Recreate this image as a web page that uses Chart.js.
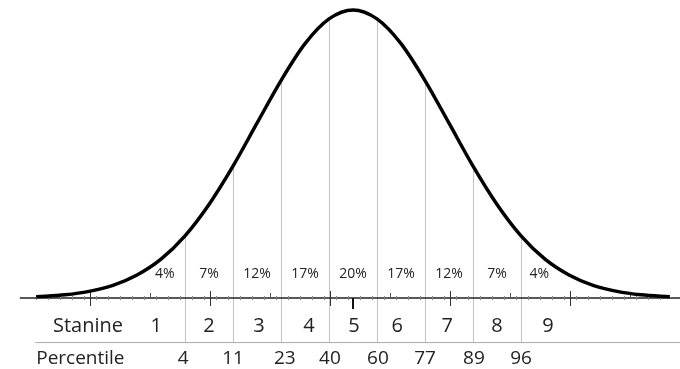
<!DOCTYPE html>
<html>
<head>
<meta charset="utf-8">
<script src="https://cdn.jsdelivr.net/npm/chart.js@4"></script>
<style>
  html, body { margin: 0; padding: 0; background: #fff; }
  #wrap { width: 680px; height: 369px; }
</style>
</head>
<body>
<div id="wrap"><canvas id="stanineChart" width="680" height="369"></canvas></div>
<script>
// curve: x in standard deviations, height in % of the peak
const curveZ = [-3.3, -3, -2.75, -2.5, -2.25, -2, -1.75, -1.5, -1.25, -1, -0.75, -0.5, -0.25, 0,
                0.25, 0.5, 0.75, 1, 1.25, 1.5, 1.75, 2, 2.25, 2.5, 2.75, 3, 3.3];
const curveH = [0.4, 1.1, 2.3, 4.4, 8, 13.5, 21.6, 32.5, 45.8, 60.7, 75.5, 88.3, 96.9, 100,
                96.9, 88.3, 75.5, 60.7, 45.8, 32.5, 21.6, 13.5, 8, 4.4, 2.3, 1.1, 0.4];

const boundaries = [-1.75, -1.25, -0.75, -0.25, 0.25, 0.75, 1.25, 1.75];
const shares = ['4%', '7%', '12%', '17%', '20%', '17%', '12%', '7%', '4%'];
const shareZ = [-1.96, -1.5, -1, -0.5, 0, 0.5, 1, 1.5, 1.94];
const stanines = ['1', '2', '3', '4', '5', '6', '7', '8', '9'];
const stanineZ = [-2.05, -1.5, -0.98, -0.46, 0.01, 0.46, 0.98, 1.5, 2.03];
const percentiles = ['4', '11', '23', '40', '60', '77', '89', '96'];
const percentileZ = [-1.77, -1.25, -0.71, -0.24, 0.26, 0.75, 1.26, 1.75];

// ruler marks along the base line
const majorTicks = [-2.74, -1.49, -0.24, 1.01, 2.26];
const mediumTicks = [-2.11, -0.86, 0.39, 1.64, 2.89];

const FONT = '"Open Sans", "DejaVu Sans", sans-serif';

const stanineDecor = {
  id: 'stanineDecor',
  beforeDatasetsDraw(chart) {
    const { ctx } = chart;
    const xs = chart.scales.x, ys = chart.scales.y;
    const pts = chart.getDatasetMeta(0).data;
    const base = ys.getPixelForValue(0);
    const rowLine = ys.getPixelForValue(-15.3);

    ctx.save();
    // boundary lines from curve down to under the stanine row
    ctx.strokeStyle = '#c4c4c4';
    ctx.lineWidth = 1;
    boundaries.forEach(z => {
      const i = curveZ.indexOf(z);
      const x = Math.round(xs.getPixelForValue(z)) + 0.5;
      ctx.beginPath();
      ctx.moveTo(x, pts[i].y);
      ctx.lineTo(x, rowLine);
      ctx.stroke();
    });

    // line under the stanine row
    ctx.strokeStyle = '#a8a8a8';
    ctx.beginPath();
    ctx.moveTo(xs.getPixelForValue(-3.31), rowLine + 0.5);
    ctx.lineTo(xs.getPixelForValue(3.41), rowLine + 0.5);
    ctx.stroke();

    // base line
    ctx.strokeStyle = '#222';
    ctx.lineWidth = 1.6;
    ctx.beginPath();
    ctx.moveTo(xs.getPixelForValue(-3.47), base);
    ctx.lineTo(xs.getPixelForValue(3.41), base);
    ctx.stroke();

    // minor ruler dots
    ctx.strokeStyle = '#888';
    ctx.lineWidth = 1;
    for (let z = -3.3; z <= 3.2; z += 0.125) {
      const x = Math.round(xs.getPixelForValue(z)) + 0.5;
      ctx.beginPath();
      ctx.moveTo(x, base - 2);
      ctx.lineTo(x, base + 2);
      ctx.stroke();
    }
    ctx.strokeStyle = '#555';
    mediumTicks.forEach(z => {
      const x = Math.round(xs.getPixelForValue(z)) + 0.5;
      ctx.beginPath();
      ctx.moveTo(x, base - 5);
      ctx.lineTo(x, base + 1);
      ctx.stroke();
    });
    ctx.strokeStyle = '#333';
    majorTicks.forEach(z => {
      const x = Math.round(xs.getPixelForValue(z)) + 0.5;
      ctx.beginPath();
      ctx.moveTo(x, base - 7);
      ctx.lineTo(x, base + 8);
      ctx.stroke();
    });
    // mean mark
    ctx.strokeStyle = '#111';
    ctx.lineWidth = 2;
    const mx = xs.getPixelForValue(0);
    ctx.beginPath();
    ctx.moveTo(mx, base);
    ctx.lineTo(mx, base + 11);
    ctx.stroke();

    // texts
    ctx.fillStyle = '#222';
    ctx.textAlign = 'center';
    ctx.textBaseline = 'middle';
    ctx.font = '14px ' + FONT;
    const shareY = ys.getPixelForValue(8.3);
    shares.forEach((s, i) => ctx.fillText(s, xs.getPixelForValue(shareZ[i]), shareY));

    ctx.font = '20px ' + FONT;
    const stY = ys.getPixelForValue(-9.7);
    ctx.fillText('Stanine', xs.getPixelForValue(-2.76), stY);
    stanines.forEach((s, i) => ctx.fillText(s, xs.getPixelForValue(stanineZ[i]), stY));

    ctx.font = '19px ' + FONT;
    const pcY = ys.getPixelForValue(-21.2);
    ctx.fillText('Percentile', xs.getPixelForValue(-2.84), pcY);
    percentiles.forEach((s, i) => ctx.fillText(s, xs.getPixelForValue(percentileZ[i]), pcY));
    ctx.restore();
  }
};

new Chart(document.getElementById('stanineChart'), {
  type: 'line',
  data: {
    datasets: [{
      data: curveZ.map((z, i) => ({ x: z, y: curveH[i] })),
      borderColor: '#000',
      borderWidth: 3.5,
      pointRadius: 0,
      cubicInterpolationMode: 'monotone',
      fill: false
    }]
  },
  options: {
    responsive: false,
    animation: false,
    layout: { padding: 0 },
    plugins: { legend: { display: false }, tooltip: { enabled: false } },
    scales: {
      x: { type: 'linear', display: false, min: -3.677, max: 3.406 },
      y: { display: false, min: -24.65, max: 103.47 }
    }
  },
  plugins: [stanineDecor]
});
</script>
</body>
</html>
